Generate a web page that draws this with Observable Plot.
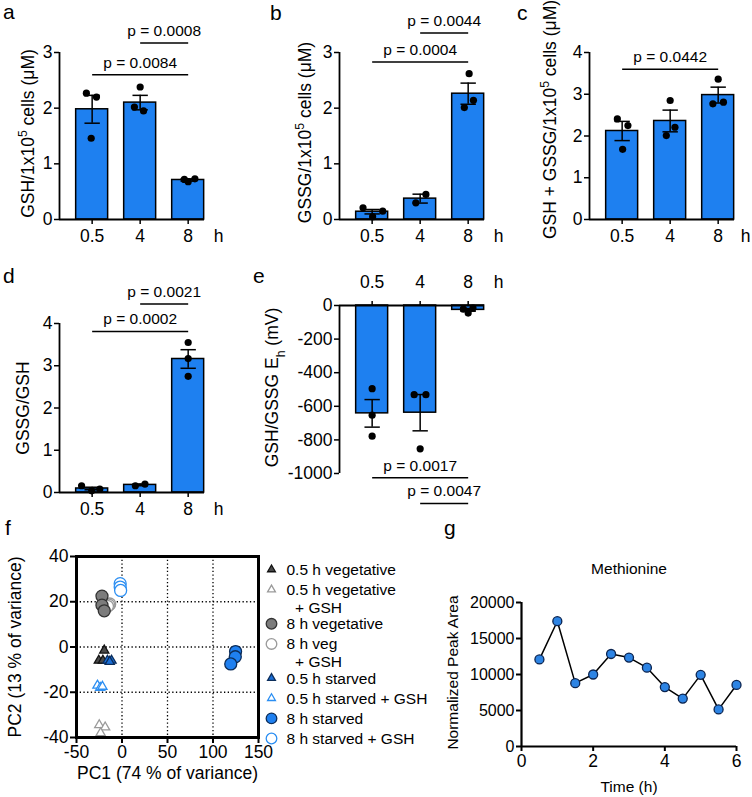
<!DOCTYPE html>
<html><head><meta charset="utf-8">
<script src="https://cdn.jsdelivr.net/npm/d3@7"></script>
<script src="https://cdn.jsdelivr.net/npm/@observablehq/plot@0.6"></script>
<style>
html,body{margin:0;padding:0;background:#fff;}
#fig{position:relative;width:752px;height:797px;overflow:hidden;background:#fff;}
#fig svg{position:absolute;overflow:visible;}
</style></head><body><div id="fig"></div>
<script>
const FONT = '"Liberation Sans", Arial, Helvetica, sans-serif';
const BLUE = "#1e80f0";

// ---------- shared categories ----------
const hours = ["0.5", "4", "8"];

// ---------- panel a: GSH ----------
const gshMean = [1.98, 2.10, 0.71];
const gshSem = [0.25, 0.13, 0.02];
const gshPoints = [[2.27, 2.20, 1.46], [2.38, 2.02, 1.95], [0.72, 0.68, 0.73]];
const gshJitter = [[-0.12, 0.09, -0.02], [0.0, -0.12, 0.07], [-0.08, 0.0, 0.14]];
const gshBrackets = [{from: 0, to: 2, y: 2.60, p: "0.0084"}, {from: 1, to: 2, y: 3.17, p: "0.0008"}];

// ---------- panel b: GSSG ----------
const gssgMean = [0.14, 0.375, 2.26];
const gssgSem = [0.04, 0.08, 0.19];
const gssgPoints = [[0.21, 0.15, 0.05], [0.45, 0.30], [2.62, 2.01, 2.14]];
const gssgJitter = [[-0.19, 0.22, 0.01], [0.12, -0.09], [0.02, -0.08, 0.11]];
const gssgBrackets = [{from: 0, to: 2, y: 2.83, p: "0.0004"}, {from: 1, to: 2, y: 3.35, p: "0.0044"}];

// ---------- panel c: GSH + GSSG ----------
const totMean = [2.12, 2.36, 2.98];
const totSem = [0.23, 0.26, 0.19];
const totPoints = [[2.41, 2.25, 1.68], [2.85, 2.21, 2.01], [3.36, 2.77, 2.81]];
const totJitter = [[-0.10, 0.12, 0.01], [0.0, 0.10, -0.08], [0.0, -0.11, 0.11]];
const totBrackets = [{from: 0, to: 2, y: 3.60, p: "0.0442"}];

// ---------- panel d: GSSG/GSH ----------
const ratioMean = [0.095, 0.18, 3.16];
const ratioSem = [0.03, 0.02, 0.22];
const ratioPoints = [[0.16, 0.04, 0.08], [0.16, 0.20], [3.55, 3.17, 2.75]];
const ratioJitter = [[-0.22, -0.01, 0.16], [-0.10, 0.10], [0.0, 0.0, 0.0]];
const ratioBrackets = [{from: 0, to: 2, y: 3.81, p: "0.0002"}, {from: 1, to: 2, y: 4.46, p: "0.0021"}];

// ---------- panel e: Eh ----------
const ehMean = [-642, -638, -26];
const ehSem = [82, 108, 8];
const ehPoints = [[-495, -653, -778], [-531, -531, -853], [-22, -45, -15]];
const ehJitter = [[0.0, 0.0, 0.0], [-0.125, 0.12, 0.0], [-0.1, 0.0, 0.1]];
const ehBrackets = [{from: 0, to: 2, y: -1025, p: "0.0017"}, {from: 1, to: 2, y: -1178, p: "0.0047"}];

// ---------- panel f: PCA ----------
const pcaGroups = ["0.5 h vegetative", "0.5 h vegetative + GSH", "8 h vegetative", "8 h veg + GSH",
                   "0.5 h starved", "0.5 h starved + GSH", "8 h starved", "8 h starved + GSH"];
const legendLabels = ["0.5 h vegetative", "0.5 h vegetative\n\u00a0\u00a0+ GSH", "8 h vegetative", "8 h veg\n\u00a0\u00a0+ GSH",
                      "0.5 h starved", "0.5 h starved + GSH", "8 h starved", "8 h starved + GSH"];
const pcaX = [[-19.5, -25.5, -21], [-25, -18.5, -23.5], [-22, -22, -19.5], [-13.5, -14.5, -16],
              [-16, -11.5, -13.5], [-27, -24, -21.5], [124.8, 124.5, 119.5], [-2, -2, -1.5]];
const pcaY = [[-1.5, -6, -6], [-34.5, -35.5, -38], [22.5, 18.5, 16], [19, 18.5, 18],
              [-6, -6, -6.5], [-17, -18, -17.5], [-2, -4.3, -7.5], [28, 26.5, 25]];
const pcaXTicks = [-50, 0, 50, 100, 150];
const pcaYTicks = [-40, -20, 0, 20, 40];

// ---------- panel g: Methionine ----------
const gTime = [0.5, 1, 1.5, 2, 2.5, 3, 3.5, 4, 4.5, 5, 5.5, 6];
const gArea = [12100, 17400, 8800, 10000, 12850, 12350, 10950, 8250, 6650, 9950, 5150, 8550];
const gXTicks = [0, 2, 4, 6];
const gYTicks = [0, 5000, 10000, 15000, 20000];

// ---------- styles ----------
const pcaStyle = {
  "0.5 h vegetative":       {symbol: "triangle", fill: "#4a4a4a", stroke: "#111", r: 3.4, lr: 2.9},
  "0.5 h vegetative + GSH": {symbol: "triangle", fill: "white", stroke: "#9a9a9a", r: 3.4, lr: 2.9},
  "8 h vegetative":         {symbol: "circle", fill: "#7c7c7c", stroke: "#333", r: 6, lr: 5.3},
  "8 h veg + GSH":          {symbol: "circle", fill: "white", stroke: "#9a9a9a", r: 6, lr: 5.3},
  "0.5 h starved":          {symbol: "triangle", fill: "#1a6fd8", stroke: "#0c2d5a", r: 3.4, lr: 2.9},
  "0.5 h starved + GSH":    {symbol: "triangle", fill: "white", stroke: "#2b8ef2", r: 3.4, lr: 2.9},
  "8 h starved":            {symbol: "circle", fill: "#1f80f0", stroke: "#0c2d5a", r: 6, lr: 5.3},
  "8 h starved + GSH":      {symbol: "circle", fill: "white", stroke: "#2b8ef2", r: 6, lr: 5.3}
};
const drawOrder = [1, 3, 5, 7, 0, 2, 4, 6];
const TICK = 17.5;
const baseStyle = {fontFamily: FONT, fontSize: "17px", color: "black", background: "none", overflow: "visible"};

const fig = document.getElementById("fig");
function place(svg, left, top) {
  svg.style.left = left + "px"; svg.style.top = top + "px";
  richText(svg);
  fig.appendChild(svg);
}
// turn ^{..} and _{..} into real superscript / subscript tspans
function richText(svg) {
  d3.select(svg).selectAll("text").each(function() {
    const t = this.textContent;
    if (!/[\^_]\{/.test(t)) return;
    const el = d3.select(this); el.text(null);
    const re = /([\^_])\{([^}]*)\}/g; let last = 0, m;
    while ((m = re.exec(t))) {
      if (m.index > last) el.append("tspan").text(t.slice(last, m.index));
      el.append("tspan").attr("baseline-shift", m[1] === "^" ? "super" : "sub").attr("font-size", "70%").text(m[2]);
      last = re.lastIndex;
    }
    if (last < t.length) el.append("tspan").text(t.slice(last));
  });
}

const XDOM = [-0.68, 2.34];
function barPanel(c) {
  const bars = hours.map((h, i) => ({i, mean: c.mean[i], lo: c.mean[i] - c.sem[i], hi: c.mean[i] + c.sem[i]}));
  const caps = bars.flatMap(d => [{i: d.i, y: d.lo}, {i: d.i, y: d.hi}]);
  const pts = c.points.flatMap((vals, i) => vals.map((v, k) => ({x: i + c.jitter[i][k], v})));
  const top = c.topAxis === true;
  return Plot.plot({
    width: c.width, height: c.height,
    marginLeft: c.ml, marginRight: c.width - c.ml - 145, marginTop: c.mt, marginBottom: c.mb,
    x: {domain: XDOM}, y: {domain: c.yDomain},
    style: baseStyle,
    marks: [
      Plot.rect(bars, {x1: d => d.i - 0.333, x2: d => d.i + 0.333, y1: () => 0, y2: "mean", fill: BLUE, stroke: "black", strokeWidth: 1.5}),
      Plot.ruleX(bars, {x: "i", y1: "lo", y2: "hi", stroke: "black", strokeWidth: 1.5}),
      Plot.link(caps, {x1: d => d.i - 0.16, x2: d => d.i + 0.16, y1: "y", y2: "y", stroke: "black", strokeWidth: 1.5}),
      Plot.dot(pts, {x: "x", y: "v", r: 3.6, fill: "black"}),
      Plot.ruleY([0], {strokeWidth: 1.8}),
      Plot.ruleX([XDOM[0]], {strokeWidth: 1.8}),
      Plot.axisY({ticks: c.yTicks, tickSize: 5, tickPadding: 2, tickFormat: d => String(d), strokeWidth: 1.5, fontSize: TICK, label: null}),
      Plot.axisX({anchor: top ? "top" : "bottom", ticks: [0, 1, 2], tickFormat: i => hours[i], tickSize: 5, tickPadding: top ? 13 : 5, strokeWidth: 1.5, fontSize: TICK, label: null}),
      Plot.link(c.brackets, {x1: "from", x2: "to", y1: "y", y2: "y", strokeWidth: 1.5}),
      Plot.text(c.brackets, {x: d => (d.from + d.to) / 2, y: "y", text: d => "p = " + d.p, dy: -12, fontSize: 15.5, textAnchor: "middle", lineAnchor: "middle"}),
      Plot.text([c.ylabel], {frameAnchor: "left", rotate: -90, dx: c.ldx, dy: c.ldy, fontSize: 17.5, textAnchor: "middle", lineAnchor: "middle"}),
      Plot.text(["h"], {frameAnchor: top ? "top-right" : "bottom-right", dx: c.hdx ?? 14, dy: top ? -23 : 17, fontSize: TICK, textAnchor: "middle", lineAnchor: "middle"})
    ]
  });
}

place(barPanel({width: 250, height: 262, ml: 59, mt: 52, mb: 43, yDomain: [0, 3], yTicks: [0, 1, 2, 3],
  mean: gshMean, sem: gshSem, points: gshPoints, jitter: gshJitter, brackets: gshBrackets,
  ylabel: "GSH/1x10^{5} cells (\u03bcM)", ldx: -31, ldy: -2.5}), 0, 0);
place(barPanel({width: 250, height: 262, ml: 89, mt: 52, mb: 43, yDomain: [0, 3], yTicks: [0, 1, 2, 3],
  mean: gssgMean, sem: gssgSem, points: gssgPoints, jitter: gssgJitter, brackets: gssgBrackets,
  ylabel: "GSSG/1x10^{5} cells (\u03bcM)", ldx: -34, ldy: -3.5}), 250, 0);
place(barPanel({width: 252, height: 262, ml: 89, mt: 52, mb: 43, yDomain: [0, 4], yTicks: [0, 1, 2, 3, 4],
  mean: totMean, sem: totSem, points: totPoints, jitter: totJitter, brackets: totBrackets, hdx: 11,
  ylabel: "GSH + GSSG/1x10^{5} cells (\u03bcM)", ldx: -39, ldy: -16.5}), 500, 0);
place(barPanel({width: 250, height: 270, ml: 59, mt: 61, mb: 40, yDomain: [0, 4], yTicks: [0, 1, 2, 3, 4],
  mean: ratioMean, sem: ratioSem, points: ratioPoints, jitter: ratioJitter, brackets: ratioBrackets,
  ylabel: "GSSG/GSH", ldx: -36, ldy: 0}), 0, 262);
place(barPanel({width: 250, height: 270, ml: 89, mt: 43, mb: 59, yDomain: [-1000, 0], yTicks: [-1000, -800, -600, -400, -200, 0],
  mean: ehMean, sem: ehSem, points: ehPoints, jitter: ehJitter, brackets: ehBrackets, topAxis: true,
  ylabel: "GSH/GSSG E_{h} (mV)", ldx: -67, ldy: -2}), 250, 262);

// ---------- panel f ----------
const pcaMarks = drawOrder.map(gi => {
  const name = pcaGroups[gi], s = pcaStyle[name];
  const pts = pcaX[gi].map((x, k) => ({x, y: pcaY[gi][k]}));
  return Plot.dot(pts, {x: "x", y: "y", symbol: s.symbol, fill: s.fill, stroke: s.stroke, r: s.r, strokeWidth: 1.3});
});
place(Plot.plot({
  width: 262, height: 265, marginLeft: 76, marginRight: 4, marginTop: 24, marginBottom: 60,
  x: {domain: [-50, 150]}, y: {domain: [-40, 40]},
  style: baseStyle,
  marks: [
    Plot.gridX([0, 50, 100], {stroke: "black", strokeOpacity: 1, strokeWidth: 1.3, strokeDasharray: "1.3,2.4"}),
    Plot.gridY([-20, 0, 20], {stroke: "black", strokeOpacity: 1, strokeWidth: 1.3, strokeDasharray: "1.3,2.4"}),
    ...pcaMarks,
    Plot.frame({stroke: "black", strokeWidth: 3}),
    Plot.axisX({ticks: pcaXTicks, tickSize: 6, tickPadding: 2, tickFormat: d => String(d), strokeWidth: 2, fontSize: TICK, label: null}),
    Plot.axisY({ticks: pcaYTicks, tickSize: 6, tickPadding: 2, tickFormat: d => String(d), strokeWidth: 2, fontSize: TICK, label: null}),
    Plot.text(["PC1 (74 % of variance)"], {frameAnchor: "bottom", dy: 36, fontSize: 17.5, textAnchor: "middle", lineAnchor: "middle"}),
    Plot.text(["PC2 (13 % of variance)"], {frameAnchor: "left", rotate: -90, dx: -61, fontSize: 17.5, textAnchor: "middle", lineAnchor: "middle"})
  ]
}), 0, 532);

// legend for f
let extra = 0;
const legendRows = pcaGroups.map((name, k) => {
  const row = {name, label: legendLabels[k], slot: k + 0.7 * extra};
  extra += (legendLabels[k].match(/\n/g) || []).length;
  return row;
});
const legendMarks = legendRows.map(row => {
  const s = pcaStyle[row.name];
  return Plot.dot([row], {y: "slot", frameAnchor: "left", symbol: s.symbol, fill: s.fill, stroke: s.stroke, r: s.lr, strokeWidth: 1.3});
});
place(Plot.plot({
  width: 190, height: 200, marginLeft: 9, marginRight: 0, marginTop: 14, marginBottom: 17,
  y: {domain: [0, 8.4], reverse: true, axis: null},
  style: baseStyle,
  marks: [
    ...legendMarks,
    Plot.text(legendRows, {y: "slot", text: "label", frameAnchor: "left", dx: 15, dy: -7, textAnchor: "start", lineAnchor: "top", lineHeight: 1.13, fontSize: 15.5})
  ]
}), 262, 555);

// ---------- panel g ----------
const gData = gTime.map((t, i) => ({t, v: gArea[i]}));
place(Plot.plot({
  width: 312, height: 265, marginLeft: 81, marginRight: 16, marginTop: 70, marginBottom: 51,
  x: {domain: [0, 6]}, y: {domain: [0, 20000]},
  style: baseStyle,
  marks: [
    Plot.line(gData, {x: "t", y: "v", stroke: "black", strokeWidth: 1.5}),
    Plot.dot(gData, {x: "t", y: "v", r: 4.5, fill: "#2d84e4", stroke: "#0b2450", strokeWidth: 1.3}),
    Plot.ruleX([0], {strokeWidth: 2.2}),
    Plot.ruleY([0], {strokeWidth: 2.2}),
    Plot.axisY({ticks: gYTicks, tickSize: 5, tickPadding: 2, tickFormat: d => String(d), strokeWidth: 2, fontSize: 16, label: null}),
    Plot.axisX({ticks: gXTicks, tickSize: 5, tickPadding: 3, tickFormat: d => String(d), strokeWidth: 2, fontSize: TICK, label: null}),
    Plot.text(["Methionine"], {frameAnchor: "top", dy: -33, fontSize: 15.5, textAnchor: "middle", lineAnchor: "middle"}),
    Plot.text(["Time (h)"], {frameAnchor: "bottom", dy: 41, fontSize: 15.5, textAnchor: "middle", lineAnchor: "middle"}),
    Plot.text(["Normalized Peak Area"], {frameAnchor: "left", rotate: -90, dx: -68, dy: -2, fontSize: 15.5, textAnchor: "middle", lineAnchor: "middle"})
  ]
}), 440, 532);

// ---------- panel letters ----------
const panelLetters = ["a", "b", "c", "d", "e", "f", "g"];
const letterPos = [[3, 19], [270, 20], [517, 20], [3, 283], [253, 283], [5, 535], [444, 535]];
const ov = d3.select(fig).append("svg").attr("width", 752).attr("height", 797)
  .style("left", "0px").style("top", "0px").style("pointer-events", "none");
ov.selectAll("text").data(panelLetters).join("text")
  .attr("x", (d, i) => letterPos[i][0]).attr("y", (d, i) => letterPos[i][1])
  .attr("font-family", FONT).attr("font-size", 21).text(d => d);
</script></body></html>
